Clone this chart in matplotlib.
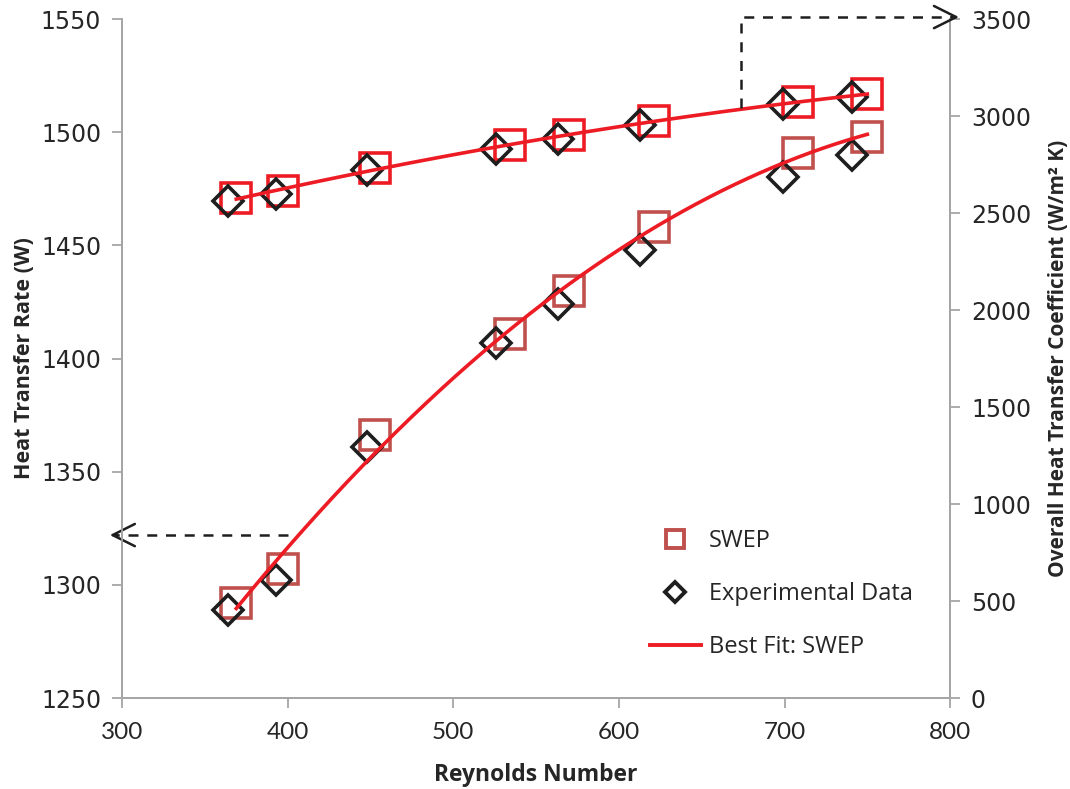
import numpy as np
import matplotlib
matplotlib.use("Agg")
import matplotlib.pyplot as plt
from matplotlib.lines import Line2D

# Reynolds numbers
re_swep = [369, 397, 453, 534, 570, 621, 708, 750]
re_exp = [364, 393, 448, 526, 563, 613, 699, 741]

# Heat transfer rate (W) - left axis
q_swep = [1292, 1307, 1366, 1411, 1430, 1458, 1491, 1498]
q_exp = [1289, 1302, 1361, 1407, 1424, 1448, 1480, 1490]

# Overall heat transfer coefficient (W/m^2 K) - right axis
u_swep = [2577, 2613, 2732, 2850, 2902, 2974, 3072, 3113]
u_exp = [2562, 2598, 2722, 2830, 2882, 2954, 3061, 3098]

x_ticks = [300, 400, 500, 600, 700, 800]
left_ticks = [1250, 1300, 1350, 1400, 1450, 1500, 1550]
right_ticks = [0, 500, 1000, 1500, 2000, 2500, 3000, 3500]

RED = "#ED1C24"
DARK_RED = "#C0504D"
BLACK = "#1E1E1E"
GREY = "#A6A6A6"
TXT = "#262626"

fig = plt.figure(figsize=(10.7, 7.89), dpi=100)
ax = fig.add_axes([0.114, 0.1153, 0.774, 0.8606])
ax2 = ax.twinx()

# Best-fit curves (quadratic through the SWEP points)
def fit_curve(x, y):
    c = np.polyfit(x, y, 2)
    xs = np.linspace(min(x), max(x), 200)
    return xs, np.polyval(c, xs)

SQ = dict(ls="none", marker="s", ms=21, mfc="none", mew=2.6, zorder=3)
DI = dict(ls="none", marker="D", ms=15, mfc="none", mec=BLACK, mew=2.6, zorder=3)

xs, ys = fit_curve(re_swep, q_swep)
ax.plot(xs, ys, color=RED, lw=2.6, zorder=4)
ax.plot(re_swep, q_swep, mec=DARK_RED, **SQ)
ax.plot(re_exp, q_exp, **DI)

xs2, ys2 = fit_curve(re_swep, u_swep)
ax2.plot(xs2, ys2, color=RED, lw=2.6, zorder=4)
ax2.plot(re_swep, u_swep, mec=RED, **SQ)
ax2.plot(re_exp, u_exp, **DI)

ax.set_xlim(300, 800)
ax.set_ylim(1250, 1550)
ax2.set_ylim(0, 3500)
ax.set_xticks(x_ticks)
ax.set_yticks(left_ticks)
ax2.set_yticks(right_ticks)

for a in (ax, ax2):
    for s in a.spines.values():
        s.set_color(GREY)
        s.set_linewidth(1.3)
    a.spines["top"].set_visible(False)
    a.tick_params(colors=GREY, width=1.3, length=7, labelcolor=TXT)
ax.tick_params(axis="x", pad=10)
ax.tick_params(axis="y", pad=8)
ax2.tick_params(axis="y", pad=8)
for lab in ax.get_xticklabels():
    lab.set_family(["Liberation Sans Narrow", "Lato"])
    lab.set_fontsize(17.5)
for lab in ax.get_yticklabels() + ax2.get_yticklabels():
    lab.set_family("DejaVu Sans")
    lab.set_fontsize(17)

lab_font = dict(family=["Liberation Sans Narrow", "Open Sans"],
                fontweight="bold", color=TXT)
ax.set_xlabel("Reynolds Number", labelpad=15, fontsize=16.5, **lab_font)
ax.set_ylabel("Heat Transfer Rate (W)", labelpad=4, fontsize=15.5, **lab_font)
ax2.set_ylabel("Overall Heat Transfer Coefficient (W/m\u00b2 K)",
               labelpad=12, fontsize=15, **lab_font)

# Dashed guide arrows pointing each curve to its axis
dash = dict(color=BLACK, lw=1.8, ls=(0, (4, 3.5)), clip_on=False, zorder=5)
head = dict(arrowstyle="->", color=BLACK, lw=1.8, mutation_scale=40)
ax.plot([400, 295], [1322, 1322], **dash)
ax.annotate("", xy=(291, 1322), xytext=(299, 1322),
            arrowprops=head, annotation_clip=False)
ax2.plot([674, 674, 803], [3042, 3510, 3510], **dash)
ax2.annotate("", xy=(807, 3510), xytext=(799, 3510),
             arrowprops=head, annotation_clip=False)

handles = [
    Line2D([], [], ls="none", marker="s", ms=13, mfc="none", mec=DARK_RED, mew=2.8),
    Line2D([], [], ls="none", marker="D", ms=10, mfc="none", mec=BLACK, mew=2.8),
    Line2D([], [], color=RED, lw=2.8),
]
labels = ["SWEP", "Experimental Data", "Best Fit: SWEP"]
leg = ax.legend(handles, labels, loc="upper left",
                bbox_to_anchor=(0.596, 0.344), bbox_transform=fig.transFigure,
                frameon=False, handlelength=2.2, handletextpad=0.3,
                labelspacing=1.22, borderpad=0,
                prop=dict(family="Open Sans", size=17))
for t in leg.get_texts():
    t.set_color(TXT)

fig.savefig("out.png", dpi=100, facecolor="white")
